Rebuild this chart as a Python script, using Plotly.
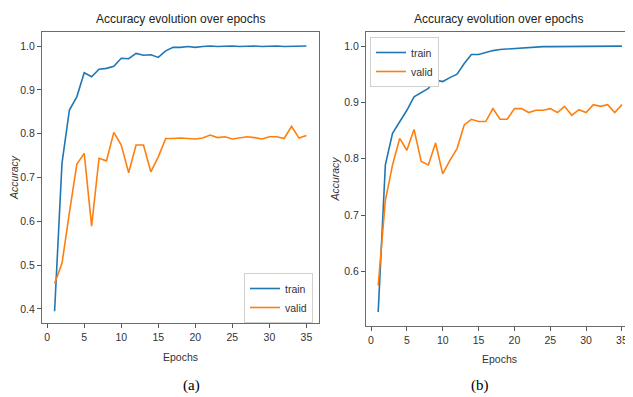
import plotly.graph_objects as go

epochs = list(range(1, 36))

train_a = [0.395, 0.733, 0.854, 0.884, 0.939, 0.930, 0.947, 0.949, 0.954, 0.972,
           0.971, 0.983, 0.979, 0.980, 0.974, 0.989, 0.997, 0.997, 0.999, 0.997,
           0.999, 1.000, 0.999, 1.000, 1.000, 0.999, 1.000, 1.000, 0.999, 1.000,
           1.000, 0.999, 0.999, 0.999, 1.000]
valid_a = [0.458, 0.504, 0.620, 0.730, 0.755, 0.589, 0.744, 0.738, 0.803, 0.774,
           0.711, 0.774, 0.774, 0.713, 0.747, 0.789, 0.789, 0.790, 0.789, 0.788,
           0.790, 0.797, 0.791, 0.793, 0.788, 0.791, 0.793, 0.791, 0.788, 0.793,
           0.793, 0.789, 0.817, 0.790, 0.796]

train_b = [0.528, 0.789, 0.845, 0.866, 0.886, 0.910, 0.917, 0.925, 0.940, 0.937,
           0.944, 0.950, 0.969, 0.985, 0.985, 0.989, 0.992, 0.994, 0.995, 0.996,
           0.996, 0.997, 0.998, 0.999, 0.999, 0.999, 1.000, 1.000, 1.000, 0.999,
           1.000, 1.000, 1.000, 0.999, 1.000]
valid_b = [0.575, 0.726, 0.789, 0.836, 0.815, 0.852, 0.795, 0.789, 0.828, 0.773,
           0.797, 0.818, 0.860, 0.870, 0.866, 0.866, 0.889, 0.870, 0.870, 0.889,
           0.889, 0.882, 0.886, 0.886, 0.889, 0.882, 0.893, 0.877, 0.887, 0.882,
           0.896, 0.893, 0.896, 0.882, 0.896]

x_ticks = [0, 5, 10, 15, 20, 25, 30, 35]
y_ticks_a = [0.4, 0.5, 0.6, 0.7, 0.8, 0.9, 1.0]
y_ticks_b = [0.6, 0.7, 0.8, 0.9, 1.0]

title_text = "Accuracy evolution over epochs"
captions = ["(a)", "(b)"]

BLUE = "#1f77b4"
ORANGE = "#ff7f0e"
OFF = 8  # default page body margin of the html page
W, H = 633 - OFF, 397 - OFF
FONT = "Liberation Sans, Arial, sans-serif"

def px_x(p):
    return (p - OFF) / W

def px_y(p):
    return 1 - (p - OFF) / H

fig = go.Figure()
fig.add_trace(go.Scatter(x=epochs, y=train_a, mode="lines", name="train",
                         line=dict(color=BLUE, width=1.6), xaxis="x", yaxis="y", legend="legend"))
fig.add_trace(go.Scatter(x=epochs, y=valid_a, mode="lines", name="valid",
                         line=dict(color=ORANGE, width=1.6), xaxis="x", yaxis="y", legend="legend"))
fig.add_trace(go.Scatter(x=epochs, y=train_b, mode="lines", name="train",
                         line=dict(color=BLUE, width=1.6), xaxis="x2", yaxis="y2", legend="legend2"))
fig.add_trace(go.Scatter(x=epochs, y=valid_b, mode="lines", name="valid",
                         line=dict(color=ORANGE, width=1.6), xaxis="x2", yaxis="y2", legend="legend2"))

axis_common = dict(showgrid=False, zeroline=False, showline=True, linecolor="#6b6b6b",
                   linewidth=1.2, ticks="outside", ticklen=4, tickcolor="#555",
                   automargin=False,
                   tickfont=dict(family=FONT, size=10.5, color="#333"))
title_font = dict(family=FONT, size=10.5, color="#333")

fig.update_layout(
    width=W, height=H,
    margin=dict(l=0, r=0, t=0, b=0, autoexpand=False),
    paper_bgcolor="white", plot_bgcolor="white",
    font=dict(family=FONT, color="#333"),
    xaxis=dict(domain=[px_x(42), px_x(319)], range=[-0.7, 36.7], tickvals=x_ticks,
               anchor="y", mirror=True,
               title=dict(text="Epochs", font=title_font, standoff=11),
               **axis_common),
    yaxis=dict(domain=[px_y(323), px_y(32)], range=[0.368, 1.032], tickvals=y_ticks_a,
               tickformat=".1f", anchor="x", mirror=True,
               title=dict(text="<i>Accuracy</i>", font=title_font, standoff=9),
               **axis_common),
    xaxis2=dict(domain=[px_x(366), 1.0], range=[-0.7, 36.54], tickvals=x_ticks,
                anchor="y2", mirror=True,
                title=dict(text="Epochs", font=title_font, standoff=10),
                **axis_common),
    yaxis2=dict(domain=[px_y(326), px_y(32)], range=[0.503, 1.025], tickvals=y_ticks_b,
                tickformat=".1f", anchor="x2", mirror=False,
                title=dict(text="<i>Accuracy</i>", font=title_font, standoff=2),
                **axis_common),
    legend=dict(x=px_x(313), y=px_y(273), xanchor="right", yanchor="top",
                bgcolor="white", bordercolor="#d0d0d0", borderwidth=1,
                font=dict(family=FONT, size=10.5, color="#333"), itemwidth=30,
                tracegroupgap=0),
    legend2=dict(x=px_x(370), y=px_y(37), xanchor="left", yanchor="top",
                 bgcolor="white", bordercolor="#d0d0d0", borderwidth=1,
                 font=dict(family=FONT, size=10.5, color="#333"), itemwidth=30,
                 tracegroupgap=0),
    showlegend=True,
)

annotations = [
    dict(text=title_text, x=px_x(180), y=px_y(19), xref="paper", yref="paper",
         xanchor="center", yanchor="middle",
         showarrow=False, font=dict(family=FONT, size=12, color="#222")),
    dict(text=title_text, x=px_x(498), y=px_y(19), xref="paper", yref="paper",
         xanchor="center", yanchor="middle",
         showarrow=False, font=dict(family=FONT, size=12, color="#222")),
    dict(text=captions[0], x=px_x(191), y=px_y(385), xref="paper", yref="paper",
         xanchor="center", yanchor="middle",
         showarrow=False, font=dict(family="Liberation Serif, Times New Roman, serif", size=15, color="#000")),
    dict(text=captions[1], x=px_x(480), y=px_y(385), xref="paper", yref="paper",
         xanchor="center", yanchor="middle",
         showarrow=False, font=dict(family="Liberation Serif, Times New Roman, serif", size=15, color="#000")),
]
fig.update_layout(annotations=annotations)

fig.write_html("out.html")
